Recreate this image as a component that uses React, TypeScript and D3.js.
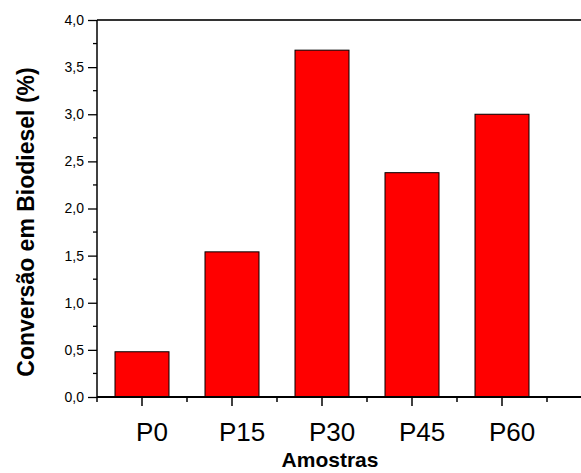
import React, { useRef, useEffect } from "react";
import * as d3 from "d3";

// Conversao em biodiesel por amostra

const categories = ["P0", "P15", "P30", "P45", "P60"];
const values = [0.48, 1.54, 3.68, 2.38, 3.0];
const yTicks = [0, 0.5, 1.0, 1.5, 2.0, 2.5, 3.0, 3.5, 4.0];
const yMinor = [0.25, 0.75, 1.25, 1.75, 2.25, 2.75, 3.25, 3.75];

const W = 581,
  H = 473,
  left = 97,
  top = 20,
  bottom = 397,
  bandRight = 547,
  font = "'Liberation Sans', Arial, sans-serif";

export default function App() {
  const svgRef = useRef<SVGSVGElement>(null);

  useEffect(() => {
    const svg = d3.select(svgRef.current);
    svg.selectAll("*").remove();

    const x = d3
      .scaleBand<string>()
      .domain(categories)
      .range([left, bandRight])
      .paddingInner(0.4)
      .paddingOuter(0.2);

    const y = d3.scaleLinear().domain([0, 4]).range([bottom, top]);

    // bars
    svg
      .append("g")
      .selectAll("rect")
      .data(values)
      .join("rect")
      .attr("x", (d, i) => x(categories[i])!)
      .attr("y", (d) => y(d))
      .attr("width", x.bandwidth())
      .attr("height", (d) => y(0) - y(d))
      .attr("fill", "#ff0000")
      .attr("stroke", "#000")
      .attr("stroke-width", 1);

    // top frame line
    svg
      .append("line")
      .attr("x1", left)
      .attr("x2", W)
      .attr("y1", top)
      .attr("y2", top)
      .attr("stroke", "#333")
      .attr("stroke-width", 2);

    // y axis
    const yAxis = svg.append("g").attr("transform", `translate(${left},0)`);
    yAxis
      .call(
        d3
          .axisLeft(y)
          .tickValues(yTicks)
          .tickSize(9)
          .tickPadding(4)
          .tickFormat((d) => d3.format(".1f")(d as number).replace(".", ","))
      )
      .call((g) => g.select(".domain").remove());
    yAxis.selectAll("line").attr("stroke", "#000").attr("stroke-width", 1.3);
    yAxis
      .selectAll("text")
      .attr("font-family", font)
      .attr("font-size", 14)
      .attr("fill", "#000");
    yAxis
      .selectAll(".minor")
      .data(yMinor)
      .join("line")
      .attr("class", "minor")
      .attr("x1", -4)
      .attr("x2", 0)
      .attr("y1", (d) => y(d))
      .attr("y2", (d) => y(d))
      .attr("stroke", "#000")
      .attr("stroke-width", 1.3);
    yAxis
      .append("line")
      .attr("x1", 0)
      .attr("x2", 0)
      .attr("y1", top)
      .attr("y2", bottom)
      .attr("stroke", "#000")
      .attr("stroke-width", 1.5);

    // x axis
    const xAxis = svg.append("g").attr("transform", `translate(0,${bottom})`);
    xAxis
      .call(d3.axisBottom(x).tickSize(9).tickPadding(15))
      .call((g) => g.select(".domain").remove());
    xAxis.selectAll("line").attr("stroke", "#000").attr("stroke-width", 1.5);
    xAxis
      .selectAll("text")
      .attr("font-family", font)
      .attr("font-size", 26)
      .attr("fill", "#000")
      .attr("dx", 10)
      .attr("dy", "0.75em");
    const step = x.step();
    const minorX = d3.range(categories.length + 1).map((i) => left + i * step);
    xAxis
      .selectAll(".minor")
      .data(minorX)
      .join("line")
      .attr("class", "minor")
      .attr("x1", (d) => d)
      .attr("x2", (d) => d)
      .attr("y1", 0)
      .attr("y2", 5)
      .attr("stroke", "#000")
      .attr("stroke-width", 1.5);
    xAxis
      .append("line")
      .attr("x1", left)
      .attr("x2", W)
      .attr("y1", 0)
      .attr("y2", 0)
      .attr("stroke", "#000")
      .attr("stroke-width", 2);

    // titles
    svg
      .append("text")
      .attr("x", 330)
      .attr("y", 467)
      .attr("text-anchor", "middle")
      .attr("font-family", font)
      .attr("font-weight", "bold")
      .attr("font-size", 21)
      .text("Amostras");

    svg
      .append("text")
      .attr("transform", `translate(34,222) rotate(-90)`)
      .attr("text-anchor", "middle")
      .attr("font-family", font)
      .attr("font-weight", "bold")
      .attr("font-size", 23)
      .text("Conversão em Biodiesel (%)");
  }, []);

  return (
    <svg
      ref={svgRef}
      width={W}
      height={H}
      style={{ position: "absolute", left: 0, top: 0, background: "#fff" }}
    ></svg>
  );
}
